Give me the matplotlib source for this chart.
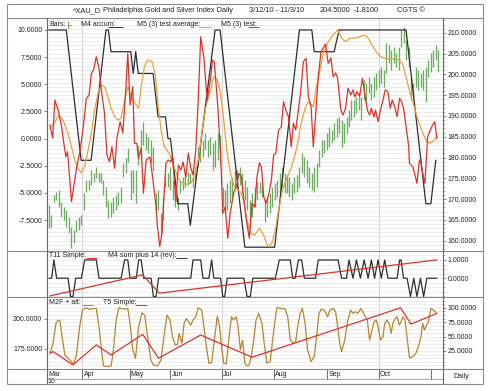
import matplotlib
matplotlib.use('Agg')
import matplotlib.pyplot as plt
import numpy as np

plt.rcParams['font.family'] = ['Liberation Sans', 'DejaVu Sans']

# ---------------- data ----------------
title_parts = ['^XAU_D', 'Philadelphia Gold and Silver Index Daily', '3/12/10 - 11/3/10',
               '204.5000', '-1.8100', 'CGTS ©']

months = ['Mar', 'Apr', 'May', 'Jun', 'Jul', 'Aug', 'Sep', 'Oct', '']
month_pos = [-0.9, 13.5, 32.5, 48.9, 69.6, 90.6, 112.1, 132.9, 154.0]
quarter_pos = [13.5, 69.6, 132.9]
year_label = '10'

highs = [168.5,166.1,171.0,171.7,172.2,169.3,168.1,167.3,165.7,163.2,
         162.5,164.9,165.7,166.1,171.4,174.6,174.6,177.0,176.2,177.7,
         176.5,176.2,174.6,172.9,169.8,169.3,170.5,171.0,171.7,172.9,
         178.7,179.9,182.3,177.0,177.0,177.0,183.0,186.6,188.5,185.9,
         184.9,184.2,182.5,171.4,172.2,166.6,170.5,175.3,176.2,177.7,
         174.6,172.2,170.5,174.6,175.3,176.2,176.5,176.2,175.3,177.7,
         182.5,183.5,184.2,185.9,184.2,184.9,183.5,184.2,185.9,185.4,
         172.9,172.2,173.9,174.6,175.3,177.0,177.0,177.7,176.2,174.6,
         172.9,169.8,171.4,172.9,174.1,174.1,173.4,169.8,170.5,171.4,
         172.9,173.9,174.6,176.2,177.7,176.2,175.8,175.3,173.9,175.3,
         175.8,177.7,181.1,180.1,179.4,177.7,176.2,177.7,178.7,181.8,
         184.2,184.2,185.9,187.4,186.6,188.3,189.5,189.7,189.0,188.3,
         189.7,191.4,193.9,193.9,194.6,195.5,194.6,198.7,197.9,199.4,
         197.9,199.4,200.4,201.1,201.8,201.1,207.6,207.1,205.9,206.6,
         205.2,206.6,210.7,211.4,208.3,206.6,199.4,197.9,201.8,201.1,
         200.4,201.1,201.8,203.5,205.2,205.9,207.1,205.9]
lows = [163.0,163.2,169.3,169.8,168.1,165.7,164.9,163.2,161.8,158.2,
        159.4,162.0,162.5,163.7,167.3,171.7,172.2,173.4,174.1,175.0,
        174.1,173.9,171.0,168.1,165.4,165.7,166.6,167.3,168.5,169.0,
        175.3,176.2,178.9,169.8,171.4,169.0,178.2,180.1,183.0,181.8,
        181.1,178.7,177.0,167.3,167.3,161.8,164.9,172.9,172.9,172.2,
        169.8,168.1,167.3,171.4,172.2,172.9,173.4,173.9,172.9,174.6,
        177.7,178.9,180.1,181.8,180.1,180.6,177.0,177.7,179.4,178.2,
        168.1,166.6,167.3,169.0,170.5,172.9,172.2,173.4,171.4,169.8,
        167.3,163.2,165.7,168.1,169.8,171.4,170.5,164.5,165.7,166.6,
        168.1,169.8,170.5,171.4,172.9,171.4,171.4,170.5,169.8,171.4,
        171.7,172.9,176.2,175.3,173.9,172.9,172.2,171.7,172.9,177.7,
        180.1,181.1,181.8,182.5,183.5,184.2,184.9,185.9,182.5,183.5,
        185.9,187.4,189.0,189.7,190.7,191.4,189.0,193.9,193.1,195.5,
        193.9,194.6,196.3,197.0,197.9,197.0,200.4,202.8,201.1,202.8,
        201.8,201.1,206.6,207.6,203.5,201.8,193.9,194.6,197.0,196.3,
        197.0,196.3,193.4,199.4,200.6,201.8,203.5,200.6]

m4_x = [0,7,13,17,23,24,25,33,34,35,36,42,43,44,47,48,49,52,56,57,
        67,69,79,91,101,106,107,115,117,144,152,154,156]
m4_y = [10,10,-2,-2,10,10,8,8,6,8,6,6,4,2,2,0,0,-6,-6,-8,
        10,10,-10,-10,10,10,8,8,10,10,-6,-6,-2]

avg_x = [0.4,2.4,4.1,5.7,7.7,9.1,10.4,11.7,13.1,14.4,
         15.8,17.1,18.4,19.8,21.1,22.4,23.8,25.1,26.5,27.8,
         29.1,30.5,31.8,32.7,33.8,35.2,36.2,37.2,38.5,39.8,
         41.6,42.9,43.8,45.2,46.5,48.5,50.5,51.8,53.2,55.2,
         57.2,58.5,60.2,61.8,63.2,65.2,66.5,67.9,69.2,70.5,
         71.9,73.2,74.5,76.3,77.4,78.6,79.9,81.2,83.0,84.9,
         86.6,88.3,89.9,91.3,92.6,94.2,95.9,97.9,99.9,101.7,
         103.3,104.6,105.6,106.6,107.9,109.3,110.6,112.6,114.6,116.4,
         118.0,119.6,121.4,123.3,125.3,127.3,128.7,130.3,132.0,133.7,
         135.4,137.4,139.4,141.4,142.7,144.0,145.4,146.7,148.4,149.8,
         151.1,152.4,153.8,155.4,156.4]
avg_y = [0.95,1.55,2.17,1.71,0.49,-0.75,-1.97,-2.74,-3.14,-2.59,
         -1.05,0.49,2.63,4.17,4.94,4.78,3.86,2.79,2.02,1.71,
         1.87,3.55,4.78,4.17,3.55,3.09,2.79,4.78,6.62,7.24,
         7.08,5.86,3.55,0.79,-0.75,-1.35,-2.59,-3.51,-3.97,-4.21,
         -4.12,-3.51,-1.97,0.79,2.79,4.48,5.70,5.40,4.17,1.71,
         -1.35,-3.20,-4.27,-4.73,-5.01,-5.81,-7.50,-8.72,-8.88,-8.26,
         -8.88,-9.95,-9.64,-8.42,-6.58,-4.73,-3.66,-2.59,-0.89,1.41,
         2.79,3.40,3.19,2.94,4.78,6.32,7.85,8.92,9.54,10.0,
         9.24,8.92,9.24,9.24,9.38,9.54,9.24,8.62,8.0,7.54,
         7.39,7.30,7.30,7.24,6.78,5.70,4.32,3.40,2.02,1.10,
         0.33,-0.29,-0.43,-0.13,0.17]

test_x = [0.4,1.5,2.4,3.7,5.1,6.0,6.8,7.5,9.1,11.1,
          12.4,13.7,15.1,16.2,17.1,18.0,19.1,20.2,21.1,22.4,
          23.4,24.4,25.4,26.5,27.4,28.7,29.8,30.9,31.8,32.7,
          33.8,34.5,35.4,36.1,37.2,38.1,39.2,40.7,41.7,43.2,
          43.7,44.7,45.6,46.3,47.2,48.1,49.2,49.8,51.2,52.2,
          53.2,54.1,55.2,56.2,57.2,58.1,59.2,60.2,61.2,62.5,
          63.8,65.2,65.9,66.7,68.1,69.2,70.1,71.1,72.1,73.1,
          74.5,75.9,76.6,77.6,78.6,79.6,80.8,81.9,83.0,83.9,
          84.9,85.7,86.6,87.5,88.6,89.7,90.6,91.5,92.6,93.7,
          94.6,95.5,96.6,97.7,98.6,99.5,100.6,101.7,102.6,103.7,
          104.6,105.7,106.6,107.5,108.6,109.7,110.6,111.5,112.6,113.7,
          114.6,115.6,116.4,117.7,118.6,119.6,120.6,121.7,122.6,123.4,
          124.2,125.3,126.4,127.3,128.4,129.3,130.0,131.1,131.7,132.7,
          133.7,134.7,135.6,136.7,137.6,138.4,139.4,140.4,141.4,142.3,
          143.1,144.0,145.0,145.4,146.7,147.6,148.4,149.4,150.0,150.7,
          151.6,152.7,153.8,154.7,155.6,156.4]
test_y = [1.25,0.05,3.55,2.63,1.10,-0.41,-1.67,-1.21,-5.81,-2.74,
          -1.33,0.79,3.71,4.01,6.01,6.32,7.54,6.47,4.48,2.36,
          -1.51,-2.13,-0.75,-2.74,0.03,1.55,0.51,4.17,7.85,3.09,
          4.78,-0.43,-0.43,-1.81,-0.87,-5.04,-1.97,-1.70,-3.35,-6.30,
          -7.96,-9.95,-8.72,-5.65,-2.25,-1.97,-2.15,-1.51,-5.81,-2.43,
          -2.89,-2.15,-3.54,-1.33,-2.71,-3.35,-1.05,3.55,9.38,7.39,
          3.55,5.55,7.24,7.05,2.94,-1.35,-6.88,-6.30,-9.18,-6.85,
          -5.01,-4.12,-3.20,-3.54,-5.65,-7.50,-9.18,-5.96,-6.30,-3.51,
          -2.22,-2.62,-5.35,-5.96,-5.19,-3.81,-1.51,-1.33,0.79,1.07,
          3.40,2.63,2.02,-0.75,1.41,0.79,2.63,4.75,7.08,7.39,
          3.86,2.94,-0.75,2.02,5.70,8.0,8.34,8.71,6.93,7.42,
          5.70,6.04,5.55,2.63,2.17,2.79,4.63,4.01,4.48,3.83,
          4.32,3.92,5.55,4.17,2.63,2.17,2.79,1.99,2.63,1.55,
          2.63,3.55,4.48,4.32,2.79,3.55,2.94,2.02,3.71,3.37,
          2.63,1.10,-0.59,-2.28,-2.59,-3.35,-4.12,-1.97,-2.28,-3.17,
          -4.12,0.17,0.79,1.25,1.55,0.03]

t11_x = [0.4, 37.8, 44.5, 156.4]
t11_y = [-0.97, 0.18, -0.82, 1.0]

m4sum_x = [0.1,1.1,2.0,3.1,7.7,8.7,9.7,10.8,13.1,14.4,
           19.1,20.2,29.1,30.5,31.8,32.7,35.2,36.2,37.2,38.2,
           41.2,42.1,43.2,44.2,57.2,58.1,61.2,62.1,64.5,65.6,
           66.5,69.2,70.1,70.9,71.9,78.6,79.9,81.2,82.2,91.3,
           92.9,97.3,98.3,99.3,100.6,101.9,103.0,107.5,108.6,116.6,
           118.0,120.0,121.0,122.6,124.0,125.6,127.1,128.7,130.0,131.3,
           132.7,134.0,135.4,136.7,140.4,141.4,142.0,143.0,144.4,145.8,
           147.1,148.4,149.8,151.1,152.4,156.4]
m4sum_y = [0,0,1,0,0,-1,-1,0,0,1,
           1,0,0,1,1,0,0,1,1,0,
           0,-1,-1,0,0,1,1,0,0,1,
           0,0,-1,-1,0,0,-1,-1,0,0,
           1,1,0,0,1,1,0,0,1,1,
           0,0,1,0,1,0,1,0,1,0,
           1,0,1,0,0,1,1,0,0,-1,
           0,-1,0,-1,0,0]

m2f_x = [0.4,1.7,2.8,3.7,4.4,5.5,6.4,7.7,9.1,10.0,
         11.1,12.4,13.5,14.8,16.4,18.4,19.1,20.2,21.1,22.0,
         23.4,25.1,26.0,27.1,28.2,29.8,31.8,32.7,33.8,34.9,
         36.2,37.5,38.6,39.8,41.1,42.1,43.8,45.2,46.2,47.6,
         48.8,49.8,50.9,51.8,52.5,53.6,54.5,55.4,56.3,57.2,
         58.1,59.2,60.2,61.6,62.5,63.5,64.5,65.6,66.9,67.9,
         68.8,69.6,70.5,71.5,72.5,73.6,74.5,75.5,76.3,77.2,
         78.1,79.0,79.9,80.6,81.6,82.6,83.5,84.6,85.9,86.8,
         87.9,89.2,90.2,91.2,91.9,93.6,95.3,96.3,97.3,97.9,
         98.6,99.5,100.3,101.3,102.2,103.3,104.3,105.7,107.0,107.9,
         108.9,109.7,111.0,112.4,113.3,114.6,115.6,116.4,117.3,118.0,
         119.3,120.4,121.7,122.6,123.6,124.6,125.7,126.6,127.6,128.4,
         129.3,130.3,131.1,132.0,132.7,133.7,134.7,135.4,136.4,137.4,
         138.0,138.7,139.6,140.4,141.3,142.0,142.7,143.6,144.4,145.4,
         146.7,148.0,149.4,150.0,150.7,151.4,152.0,153.0,154.0,155.1,
         156.4]
m2f_y = [21.0,38.3,72.9,78.6,77.5,44.0,18.1,12.3,6.5,2.5,
         18.1,67.1,96.0,100,97.7,98.8,98.8,67.1,29.6,-1.0,
         -2.1,-1.0,26.7,78.6,100,97.7,98.8,72.9,26.7,12.3,
         67.1,91.3,87.3,49.8,9.4,0.8,-1.0,9.4,44.0,87.3,
         78.6,49.8,35.4,35.4,55.6,38.3,72.9,81.5,75.8,70.0,
         78.6,84.4,100,96.0,67.1,32.5,3.6,4.8,49.8,85.6,
         67.1,32.5,3.6,2.5,44.0,84.4,78.6,84.4,67.1,26.7,
         44.0,3.6,-1.0,-1.0,15.2,44.0,78.6,90.2,72.9,38.3,
         3.6,6.5,44.0,78.6,100,98.8,97.7,84.4,44.0,41.1,
         38.3,41.1,67.1,90.2,98.8,72.9,26.7,6.5,15.2,49.8,
         90.2,97.1,96.0,84.4,96.0,98.8,93.1,67.1,38.3,23.8,
         44.0,75.8,96.0,90.2,93.1,90.2,98.8,93.1,84.4,78.6,
         44.0,61.3,75.8,78.6,67.1,44.0,49.8,72.9,78.6,70.0,
         55.6,72.9,81.5,84.4,70.0,75.8,84.4,78.6,49.8,12.3,
         15.2,21.0,38.3,49.8,72.9,61.3,67.1,75.8,98.8,96.0,
         90.2]

t5_x = [0.4, 1.7, 9.7, 19.1, 25.1, 37.8, 44.2, 61.2, 81.9, 141.8, 146.0, 156.4]
t5_y = [21.0, 23.8, 0.8, 35.4, 18.1, 53.9, 12.3, 52.7, 14.0, 100.0, 71.7, 90.2]

main_right_ticks = [160, 165, 170, 175, 180, 185, 190, 195, 200, 205, 210]
main_left_ticks = [-7.5, -5.0, -2.5, 0.0, 2.5, 5.0, 7.5, 10.0]
p2_right_ticks = [0.0, 1.0]
p3_right_ticks = [25, 50, 75, 100]
p3_left_ticks = [175, 200]

# ---------------- style ----------------
C_BAR = '#6cab60'
C_BLACK = '#2e2e2e'
C_ORANGE = '#e9a13c'
C_RED = '#d9342b'
C_BROWN = '#b6852f'
C_FRAME = '#8a8a8a'
C_GRID = '#e6e6e6'
C_VGRID = '#d4d4d4'
FS = 5.0

W, H = 490, 391
fig = plt.figure(figsize=(W / 100, H / 100), dpi=100)
fig.patch.set_facecolor('white')

X0, X1 = 46.7, 443.0
XLIM = (-0.9, 158.9)


def box(x0, y0, x1, y1):
    return [x0 / W, 1 - y1 / H, (x1 - x0) / W, (y1 - y0) / H]


def style(ax):
    for s in ax.spines.values():
        s.set_visible(False)
    ax.tick_params(axis='both', labelsize=FS, length=2.2, width=0.5,
                   color='#555555', pad=1.0, labelcolor='#222222')
    ax.tick_params(axis='y', which='minor', length=1.2, width=0.4, color='#777777')
    ax.set_xticks([])


fmt = lambda v: f'{v:.4f}'

# ---- main panel: price on the right, oscillators on the left ----
axm = fig.add_axes(box(X0, 17.5, X1, 251))
axo = axm.twinx()
for a in (axm, axo):
    a.set_xlim(*XLIM)
    style(a)

axm.set_ylim(157.5, 213.7)
axm.yaxis.tick_right()
axm.yaxis.set_label_position('right')
axm.set_yticks(main_right_ticks)
axm.set_yticklabels([fmt(v) for v in main_right_ticks])
axm.set_yticks(np.arange(158, 214, 1), minor=True)
axm.grid(axis='y', which='both', color=C_GRID, lw=0.5)
axm.set_axisbelow(True)
for q in quarter_pos:
    axm.axvline(q, color=C_VGRID, lw=0.8, zorder=0.5)
axm.vlines(np.arange(len(highs)), lows, highs, color=C_BAR, lw=0.95, zorder=2)

axo.set_ylim(-10.35, 11.15)
axo.yaxis.tick_left()
axo.set_yticks(main_left_ticks)
axo.set_yticklabels([fmt(v) for v in main_left_ticks])
axo.set_yticks([], minor=True)
axo.plot(m4_x, m4_y, color=C_BLACK, lw=0.9)
axo.plot(avg_x, avg_y, color=C_ORANGE, lw=0.9)
axo.plot(test_x, test_y, color=C_RED, lw=0.9)

# ---- panel 2 ----
ax2 = fig.add_axes(box(X0, 251, X1, 297))
ax2.set_xlim(*XLIM)
ax2.set_ylim(-1.03, 1.49)
style(ax2)
ax2.yaxis.tick_right()
ax2.set_yticks(p2_right_ticks)
ax2.set_yticklabels([fmt(v) for v in p2_right_ticks])
ax2.set_yticks(np.arange(-1.0, 1.5, 0.25), minor=True)
ax2.grid(axis='y', which='both', color=C_GRID, lw=0.5)
ax2.set_axisbelow(True)
for q in quarter_pos:
    ax2.axvline(q, color=C_VGRID, lw=0.8, zorder=0.5)
ax2.plot(m4sum_x, m4sum_y, color=C_BLACK, lw=0.9)
ax2.plot(t11_x, t11_y, color=C_RED, lw=0.9)

# ---- panel 3 ----
ax3 = fig.add_axes(box(X0, 297, X1, 369))
ax3l = ax3.twinx()
for a in (ax3, ax3l):
    a.set_xlim(*XLIM)
    style(a)
ax3.set_ylim(-6.4, 118.6)
ax3.yaxis.tick_right()
ax3.set_yticks(p3_right_ticks)
ax3.set_yticklabels([fmt(v) for v in p3_right_ticks])
ax3.set_yticks(np.arange(0, 120, 6.25), minor=True)
ax3.grid(axis='y', which='both', color=C_GRID, lw=0.5)
ax3.set_axisbelow(True)
for q in quarter_pos:
    ax3.axvline(q, color=C_VGRID, lw=0.8, zorder=0.5)
ax3.plot(m2f_x, m2f_y, color=C_BROWN, lw=0.9)
ax3.plot(t5_x, t5_y, color=C_RED, lw=0.9)

ax3l.set_ylim(158.3, 218.3)
ax3l.yaxis.tick_left()
ax3l.set_yticks(p3_left_ticks)
ax3l.set_yticklabels([fmt(v) for v in p3_left_ticks])
ax3l.set_yticks([], minor=True)

# ---- x axis row ----
axx = fig.add_axes(box(X0, 369, X1, 379.0))
axx.set_xlim(*XLIM)
axx.set_ylim(0, 1)
axx.axis('off')
for m, p in zip(months, month_pos):
    axx.plot([p, p], [0, 1], color='#555555', lw=0.6, clip_on=False)
    axx.text(p + 0.5, 0.45, m, fontsize=FS, ha='left', va='center', color='#222222')
axx.text(month_pos[0] + 0.5, -0.28, year_label, fontsize=FS, ha='left', va='center',
         color='#222222', clip_on=False)

# ---- overlay: frames, title, legends ----
ov = fig.add_axes([0, 0, 1, 1])
ov.set_xlim(0, W)
ov.set_ylim(H, 0)
ov.axis('off')
ov.patch.set_alpha(0)


def hline(y, x0, x1, c=C_FRAME, lw=0.8):
    ov.plot([x0, x1], [y, y], color=c, lw=lw, solid_capstyle='butt')


def vline(x, y0, y1, c=C_FRAME, lw=0.8):
    ov.plot([x, x], [y0, y1], color=c, lw=lw, solid_capstyle='butt')


hline(3.5, 7, 483)
hline(384, 7, 483)
vline(7, 3.5, 384)
vline(483, 3.5, 384)
hline(17.5, 7, 483)
hline(251, 7, 483)
hline(297, 7, 483)
hline(369, 7, 483)
hline(379.0, X0, X1, c='#999999', lw=0.6)
vline(X0, 17.5, 384, c='#666666')
vline(X1, 17.5, 384, c='#666666')

title_x = [73, 103, 249, 320, 354, 397]
for t, x in zip(title_parts, title_x):
    ov.text(x, 10.8, t, fontsize=FS + 0.3, ha='left', va='center', color='#222222')


def legend_item(x, y, label, color, ux0, ux1):
    ov.text(x, y, label, fontsize=FS, ha='left', va='center', color='#222222')
    hline(y + 2.6, ux0, ux1, c=color, lw=0.7)


# main legend
ov.text(49.3, 24.5, 'Bars:', fontsize=FS, ha='left', va='center', color='#222222')
ov.plot([67.5, 67.5], [21.5, 27.5], color=C_BAR, lw=0.9)
ov.plot([67.5, 70.5], [24.5, 24.5], color=C_BAR, lw=0.7)
legend_item(80.7, 24.5, 'M4 accum:', C_BLACK, 108, 123)
legend_item(137.3, 24.5, 'M5 (3) test average:', C_ORANGE, 198, 211)
legend_item(221, 24.5, 'M5 (3) test:', C_RED, 248, 259)
# panel 2 legend
legend_item(48.7, 255.2, 'T11 Simple:', C_RED, 86, 97.3)
legend_item(108.3, 255.2, 'M4 sum plus 14 (rev):', C_BLACK, 176, 187)
# panel 3 legend
legend_item(49, 302.3, 'M2F + alt:', C_BROWN, 81.7, 92.7)
legend_item(102.7, 302.3, 'T5 Simple:', C_RED, 135, 146.7)

ov.text(461, 376.5, 'Daily', fontsize=FS, ha='center', va='center', color='#222222')

fig.savefig('out.png', dpi=100, facecolor='white')
